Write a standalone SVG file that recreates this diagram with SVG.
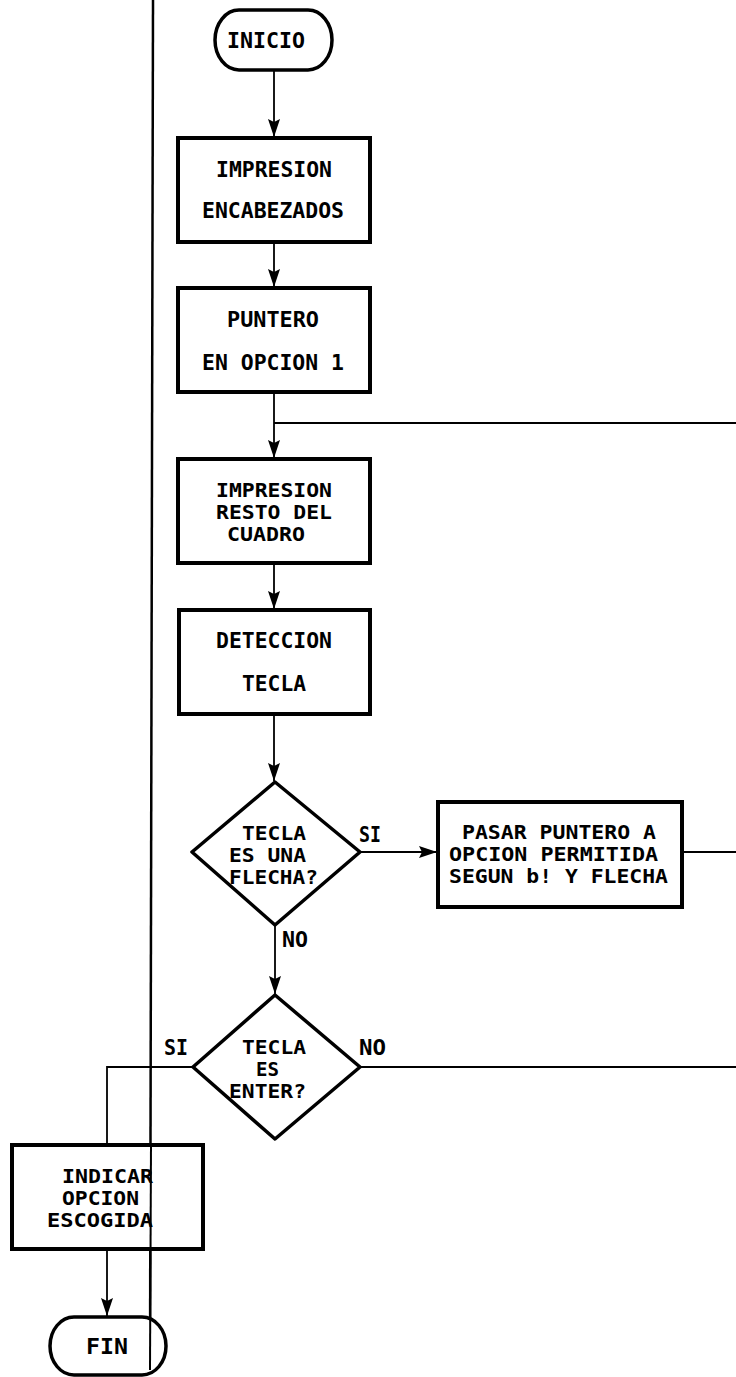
<svg xmlns="http://www.w3.org/2000/svg" width="736" height="1377" viewBox="0 0 736 1377">
<style>
.box{fill:#fff;stroke:#000;stroke-width:4}
.dia{fill:#fff;stroke:#000;stroke-width:3.5;stroke-linejoin:round}
.term{fill:#fff;stroke:#000;stroke-width:3.5}
.ln{fill:none;stroke:#000;stroke-width:1.8}
.t{font-family:"DejaVu Sans Mono","Liberation Mono",monospace;font-weight:bold;font-size:22px;fill:#000}
.s{font-size:20px}
</style>
<defs>
<marker id="ah" markerUnits="userSpaceOnUse" markerWidth="20" markerHeight="14" refX="18" refY="6" orient="auto">
<path d="M0,0 L18,6 L0,12 L3,6 z" fill="#000"/>
</marker>
</defs>
<rect width="736" height="1377" fill="#fff"/>
<g id="connectors">
<line class="ln" x1="153" y1="0" x2="150" y2="1370" style="stroke-width:2.5"/>
<line class="ln" x1="274" y1="70" x2="274" y2="137" marker-end="url(#ah)"/>
<line class="ln" x1="274" y1="242" x2="274" y2="287" marker-end="url(#ah)"/>
<line class="ln" x1="274" y1="392" x2="274" y2="458" marker-end="url(#ah)"/>
<line class="ln" x1="274" y1="423" x2="736" y2="423"/>
<line class="ln" x1="274" y1="563" x2="274" y2="609" marker-end="url(#ah)"/>
<line class="ln" x1="274" y1="714" x2="274" y2="781" marker-end="url(#ah)"/>
<line class="ln" x1="360" y1="852" x2="437" y2="852" marker-end="url(#ah)"/>
<line class="ln" x1="682" y1="852" x2="736" y2="852"/>
<line class="ln" x1="275" y1="925" x2="275" y2="994" marker-end="url(#ah)"/>
<line class="ln" x1="360" y1="1067" x2="736" y2="1067"/>
<polyline class="ln" points="193,1067 107,1067 107,1145"/>
<line class="ln" x1="107" y1="1249" x2="107" y2="1316" marker-end="url(#ah)"/>
</g>
<g id="inicio">
<rect class="term" x="215" y="10" width="117" height="60" rx="24" ry="30"/>
<text class="t" x="227" y="48" textLength="78" lengthAdjust="spacingAndGlyphs">INICIO</text>
</g>
<g id="impresion-encabezados">
<rect class="box" x="178" y="138" width="192" height="104"/>
<text class="t"><tspan x="216" y="177" textLength="116" lengthAdjust="spacingAndGlyphs">IMPRESION</tspan><tspan x="202" y="218" textLength="142" lengthAdjust="spacingAndGlyphs">ENCABEZADOS</tspan></text>
</g>
<g id="puntero">
<rect class="box" x="178" y="288" width="192" height="104"/>
<text class="t"><tspan x="227" y="327" textLength="92" lengthAdjust="spacingAndGlyphs">PUNTERO</tspan><tspan x="202" y="370" textLength="142" lengthAdjust="spacingAndGlyphs">EN OPCION 1</tspan></text>
</g>
<g id="impresion-resto">
<rect class="box" x="178" y="459" width="192" height="104"/>
<text class="t s"><tspan x="216" y="497" textLength="116" lengthAdjust="spacingAndGlyphs">IMPRESION</tspan><tspan x="216" y="519" textLength="116" lengthAdjust="spacingAndGlyphs">RESTO DEL</tspan><tspan x="227" y="541" textLength="78" lengthAdjust="spacingAndGlyphs">CUADRO</tspan></text>
</g>
<g id="deteccion">
<rect class="box" x="179" y="610" width="191" height="104"/>
<text class="t"><tspan x="216" y="648" textLength="116" lengthAdjust="spacingAndGlyphs">DETECCION</tspan><tspan x="242" y="691" textLength="64" lengthAdjust="spacingAndGlyphs">TECLA</tspan></text>
</g>
<g id="es-flecha">
<polygon class="dia" points="275,782 360,852 275,925 192,852"/>
<text class="t s"><tspan x="242" y="840" textLength="64" lengthAdjust="spacingAndGlyphs">TECLA</tspan><tspan x="229" y="862" textLength="77" lengthAdjust="spacingAndGlyphs">ES UNA</tspan><tspan x="229" y="884" textLength="89" lengthAdjust="spacingAndGlyphs">FLECHA?</tspan></text>
<text class="t" x="359" y="842" textLength="22" lengthAdjust="spacingAndGlyphs">SI</text>
<text class="t" x="282" y="947" textLength="26" lengthAdjust="spacingAndGlyphs">NO</text>
</g>
<g id="pasar-puntero">
<rect class="box" x="438" y="802" width="244" height="105"/>
<text class="t s"><tspan x="462" y="839" textLength="194" lengthAdjust="spacingAndGlyphs">PASAR PUNTERO A</tspan><tspan x="449" y="861" textLength="209" lengthAdjust="spacingAndGlyphs">OPCION PERMITIDA</tspan><tspan x="449" y="883" textLength="219" lengthAdjust="spacingAndGlyphs">SEGUN b! Y FLECHA</tspan></text>
</g>
<g id="es-enter">
<polygon class="dia" points="275,995 360,1067 275,1139 193,1067"/>
<text class="t s"><tspan x="242" y="1054" textLength="64" lengthAdjust="spacingAndGlyphs">TECLA</tspan><tspan x="256" y="1076" textLength="23" lengthAdjust="spacingAndGlyphs">ES</tspan><tspan x="229" y="1098" textLength="77" lengthAdjust="spacingAndGlyphs">ENTER?</tspan></text>
<text class="t" x="164" y="1055" textLength="24" lengthAdjust="spacingAndGlyphs">SI</text>
<text class="t" x="359" y="1055" textLength="27" lengthAdjust="spacingAndGlyphs">NO</text>
</g>
<g id="indicar">
<rect class="box" x="12" y="1145" width="191" height="104"/>
<text class="t s"><tspan x="62" y="1183" textLength="91" lengthAdjust="spacingAndGlyphs">INDICAR</tspan><tspan x="62" y="1205" textLength="77" lengthAdjust="spacingAndGlyphs">OPCION</tspan><tspan x="47" y="1227" textLength="106" lengthAdjust="spacingAndGlyphs">ESCOGIDA</tspan></text>
</g>
<g id="fin">
<rect class="term" x="50" y="1317" width="116" height="58" rx="24" ry="29"/>
<text class="t" x="86" y="1354" textLength="42" lengthAdjust="spacingAndGlyphs">FIN</text>
</g>
<line x1="151" y1="1145" x2="150" y2="1370" stroke="#000" stroke-width="2"/>
</svg>
